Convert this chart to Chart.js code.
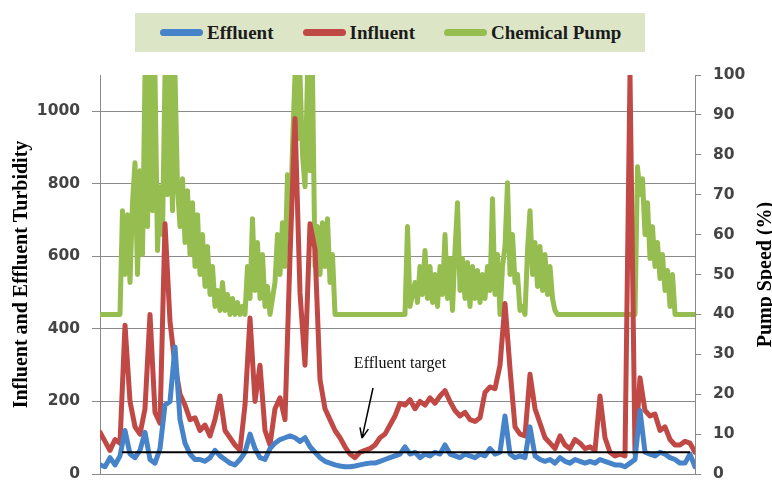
<!DOCTYPE html>
<html>
<head>
<meta charset="utf-8">
<script src="https://cdn.jsdelivr.net/npm/chart.js@4.4.1/dist/chart.umd.min.js"></script>
<style>
  html, body { margin: 0; padding: 0; background: #fff; }
  #wrap { position: relative; width: 772px; height: 483px; }
  #legend {
    position: absolute; left: 135px; top: 13px; width: 510px; height: 39px;
    background: #dde5c7; display: flex; align-items: center;
    padding-left: 25px; box-sizing: border-box; white-space: nowrap;
    font: bold 19px "Liberation Serif", serif; color: #1b1b1b;
  }
  #legend .item { display: flex; align-items: center; margin-right: 29px; }
  #legend .mark { width: 43px; height: 7px; border-radius: 4px; margin-right: 4px; }
</style>
</head>
<body>
<div id="wrap">
  <canvas id="chart" width="772" height="483"></canvas>
  <div id="legend"></div>
</div>
<script>
// Turbidity readings, one every ~5px along the time axis
const effluent = [
  25, 20, 45, 25, 50, 120, 55, 45, 65, 115,
  40, 30, 70, 190, 200, 350, 150, 85, 55, 40,
  40, 35, 45, 65, 50, 40, 30, 25, 40, 60,
  110, 70, 45, 40, 70, 85, 95, 100, 105, 100,
  90, 100, 75, 60, 45, 35, 30, 25, 22, 20,
  20, 22, 25, 28, 30, 30, 35, 40, 45, 50,
  55, 75, 55, 60, 45, 55, 50, 60, 55, 80,
  55, 50, 45, 55, 50, 45, 55, 50, 70, 55,
  60, 160, 55, 45, 50, 45, 130, 50, 40, 35,
  40, 30, 45, 35, 30, 40, 35, 30, 35, 30,
  40, 35, 30, 25, 25, 20, 30, 40, 175, 60,
  55, 50, 60, 55, 45, 40, 30, 30, 55, 20
];

const influent = [
  115, 90, 65, 95, 85, 410, 200, 130, 110, 180,
  440, 170, 140, 690, 420, 300, 220, 190, 150, 155,
  120, 135, 105, 150, 215, 120, 100, 80, 65, 190,
  430, 200, 300, 120, 80, 180, 210, 150, 600, 980,
  500, 300, 690, 620, 260, 180, 150, 120, 100, 75,
  55, 45, 60, 65, 70, 80, 100, 110, 135, 160,
  195, 190, 205, 180, 200, 190, 210, 195, 215, 230,
  200, 175, 160, 170, 150, 145, 155, 225, 240, 235,
  300, 470, 290, 130, 110, 105, 275, 180, 140, 100,
  85, 70, 105, 80, 70, 95, 85, 70, 75, 65,
  215, 100, 60, 50, 55, 50, 1100, 55, 265, 175,
  160, 165, 120, 130, 95, 80, 80, 90, 85, 60
];

// Pump speed (%), read twice as densely (half steps)
const pumpSpeed = [
  40, 40, 40, 40, 40, 40, 40, 40, 40, 66,
  50, 65, 48, 68, 78, 50, 76, 55, 100, 62,
  100, 66, 100, 56, 72, 60, 100, 70, 100, 66,
  100, 72, 62, 74, 58, 71, 55, 68, 52, 65,
  50, 60, 47, 57, 45, 52, 42, 46, 41, 48,
  41, 45, 40, 44, 40, 43, 40, 42, 40, 52,
  44, 64, 46, 58, 44, 55, 42, 47, 40, 44,
  48, 60, 50, 63, 52, 75, 60, 82, 100, 84,
  100, 80, 72, 100, 76, 100, 52, 62, 50, 63,
  52, 64, 48, 55, 40, 40, 40, 40, 40, 40,
  40, 40, 40, 40, 40, 40, 40, 40, 40, 40,
  40, 40, 40, 40, 40, 40, 40, 40, 40, 40,
  40, 40, 40, 62, 42, 45, 48, 43, 52, 45,
  56, 44, 52, 43, 50, 42, 52, 45, 60, 44,
  54, 41, 56, 68, 46, 54, 44, 53, 42, 52,
  44, 51, 43, 50, 44, 52, 46, 69, 45, 55,
  40, 52, 57, 73, 50, 60, 48, 50, 41, 42,
  40, 56, 66, 50, 58, 47, 57, 46, 55, 45,
  52, 44, 41, 40, 40, 40, 40, 40, 40, 40,
  40, 40, 40, 40, 40, 40, 40, 40, 40, 40,
  40, 40, 40, 40, 40, 40, 40, 40, 40, 40,
  40, 40, 40, 40, 40, 77, 70, 74, 60, 68,
  54, 62, 52, 58, 49, 55, 46, 51, 42, 50,
  40, 40, 40, 40, 40, 40, 40, 40, 40
];

const turbidityTicks = [0, 200, 400, 600, 800, 1000];
const pumpTicks = [0, 10, 20, 30, 40, 50, 60, 70, 80, 90, 100];

// Effluent target reference line and its note
const targetLevel = 60;
const targetFrom = 4.4;
const targetTo = 118;
const targetLabel = 'Effluent target';
const targetLabelAt = [60, 305];
const arrowFrom = [54.6, 237];
const arrowTo = [52.4, 99];

const leftTitle = 'Influent and Effluent Turbidity';
const rightTitle = 'Pump Speed (%)';

const seriesColors = { effluent: '#4683c8', influent: '#c04845', pump: '#96bd4f' };
const gridColor = '#8a8a8a';

const extras = {
  id: 'extras',
  afterDatasetsDraw(chart) {
    const { ctx, scales } = chart;
    const x = scales.x, y = scales.y;
    ctx.save();

    // target line
    ctx.strokeStyle = '#000';
    ctx.lineWidth = 2;
    ctx.beginPath();
    ctx.moveTo(x.getPixelForValue(targetFrom), y.getPixelForValue(targetLevel));
    ctx.lineTo(x.getPixelForValue(targetTo), y.getPixelForValue(targetLevel));
    ctx.stroke();

    // note + arrow
    ctx.fillStyle = '#111';
    ctx.font = '16px "Liberation Serif"';
    ctx.textAlign = 'center';
    ctx.textBaseline = 'middle';
    ctx.fillText(targetLabel, x.getPixelForValue(targetLabelAt[0]), y.getPixelForValue(targetLabelAt[1]));

    const ax = x.getPixelForValue(arrowFrom[0]), ay = y.getPixelForValue(arrowFrom[1]);
    const bx = x.getPixelForValue(arrowTo[0]), by = y.getPixelForValue(arrowTo[1]);
    ctx.lineWidth = 1.5;
    ctx.beginPath();
    ctx.moveTo(ax, ay);
    ctx.lineTo(bx, by);
    const ang = Math.atan2(by - ay, bx - ax);
    ctx.moveTo(bx, by);
    ctx.lineTo(bx - 11 * Math.cos(ang - 0.4), by - 11 * Math.sin(ang - 0.4));
    ctx.moveTo(bx, by);
    ctx.lineTo(bx - 11 * Math.cos(ang + 0.4), by - 11 * Math.sin(ang + 0.4));
    ctx.stroke();
    ctx.restore();
  },
  afterDraw(chart) {
    const { ctx, chartArea } = chart;
    const midY = (chartArea.top + chartArea.bottom) / 2;
    [[leftTitle, 22], [rightTitle, 766]].forEach(([text, cx]) => {
      ctx.save();
      ctx.fillStyle = '#000';
      ctx.font = 'bold 20px "Liberation Serif"';
      ctx.textAlign = 'center';
      ctx.textBaseline = 'middle';
      ctx.translate(cx, midY);
      ctx.rotate(-Math.PI / 2);
      ctx.fillText(text, 0, 0);
      ctx.restore();
    });
  }
};

const tickFont = { family: '"DejaVu Sans"', size: 15.5, weight: 'bold', lineHeight: 1.1 };

// keep tick labels from pushing the plot area in
const noOverflow = s => { s.paddingTop = 0; s.paddingBottom = 0; };

const chart = new Chart(document.getElementById('chart'), {
  type: 'line',
  data: {
    datasets: [
      { label: 'Effluent', data: effluent.map((v, i) => ({ x: i, y: v })), borderColor: seriesColors.effluent, backgroundColor: seriesColors.effluent, borderWidth: 5, yAxisID: 'y' },
      { label: 'Influent', data: influent.map((v, i) => ({ x: i, y: v })), borderColor: seriesColors.influent, backgroundColor: seriesColors.influent, borderWidth: 5, yAxisID: 'y' },
      { label: 'Chemical Pump', data: pumpSpeed.map((v, k) => ({ x: k / 2, y: v })), borderColor: seriesColors.pump, backgroundColor: seriesColors.pump, borderWidth: 5, yAxisID: 'y1' }
    ]
  },
  options: {
    responsive: false,
    animation: false,
    devicePixelRatio: 1,
    layout: { padding: { top: 75, bottom: 0, left: 0, right: 0 } },
    elements: {
      line: { tension: 0, borderJoinStyle: 'round', borderCapStyle: 'round' },
      point: { radius: 0, hoverRadius: 0 }
    },
    plugins: {
      legend: { display: false },
      tooltip: { enabled: false }
    },
    scales: {
      x: {
        type: 'linear',
        min: 0,
        max: influent.length - 1,
        ticks: { display: false },
        grid: { drawOnChartArea: false, drawTicks: false },
        border: { display: true, color: gridColor, width: 1 },
        afterFit: s => { s.height = 9; }
      },
      y: {
        position: 'left',
        min: 0,
        max: 1100,
        afterBuildTicks: s => { s.ticks = turbidityTicks.map(v => ({ value: v })); },
        ticks: { font: tickFont, color: '#444', padding: 12, callback: v => String(v) },
        grid: { color: gridColor, tickLength: 8, lineWidth: 1 },
        border: { display: true, color: gridColor },
        afterFit: s => { s.width = 100; noOverflow(s); }
      },
      y1: {
        position: 'right',
        min: 0,
        max: 100,
        afterBuildTicks: s => { s.ticks = pumpTicks.map(v => ({ value: v })); },
        ticks: { font: tickFont, color: '#444', padding: 12, callback: v => String(v) },
        grid: { drawOnChartArea: false, color: gridColor, tickLength: 6 },
        border: { display: true, color: gridColor },
        afterFit: s => { s.width = 77; noOverflow(s); }
      }
    }
  },
  plugins: [extras]
});

// Legend
const legend = document.getElementById('legend');
chart.data.datasets.forEach(ds => {
  const item = document.createElement('div');
  item.className = 'item';
  const mark = document.createElement('span');
  mark.className = 'mark';
  mark.style.background = ds.borderColor;
  const text = document.createElement('span');
  text.textContent = ds.label;
  item.appendChild(mark);
  item.appendChild(text);
  legend.appendChild(item);
});
</script>
</body>
</html>
